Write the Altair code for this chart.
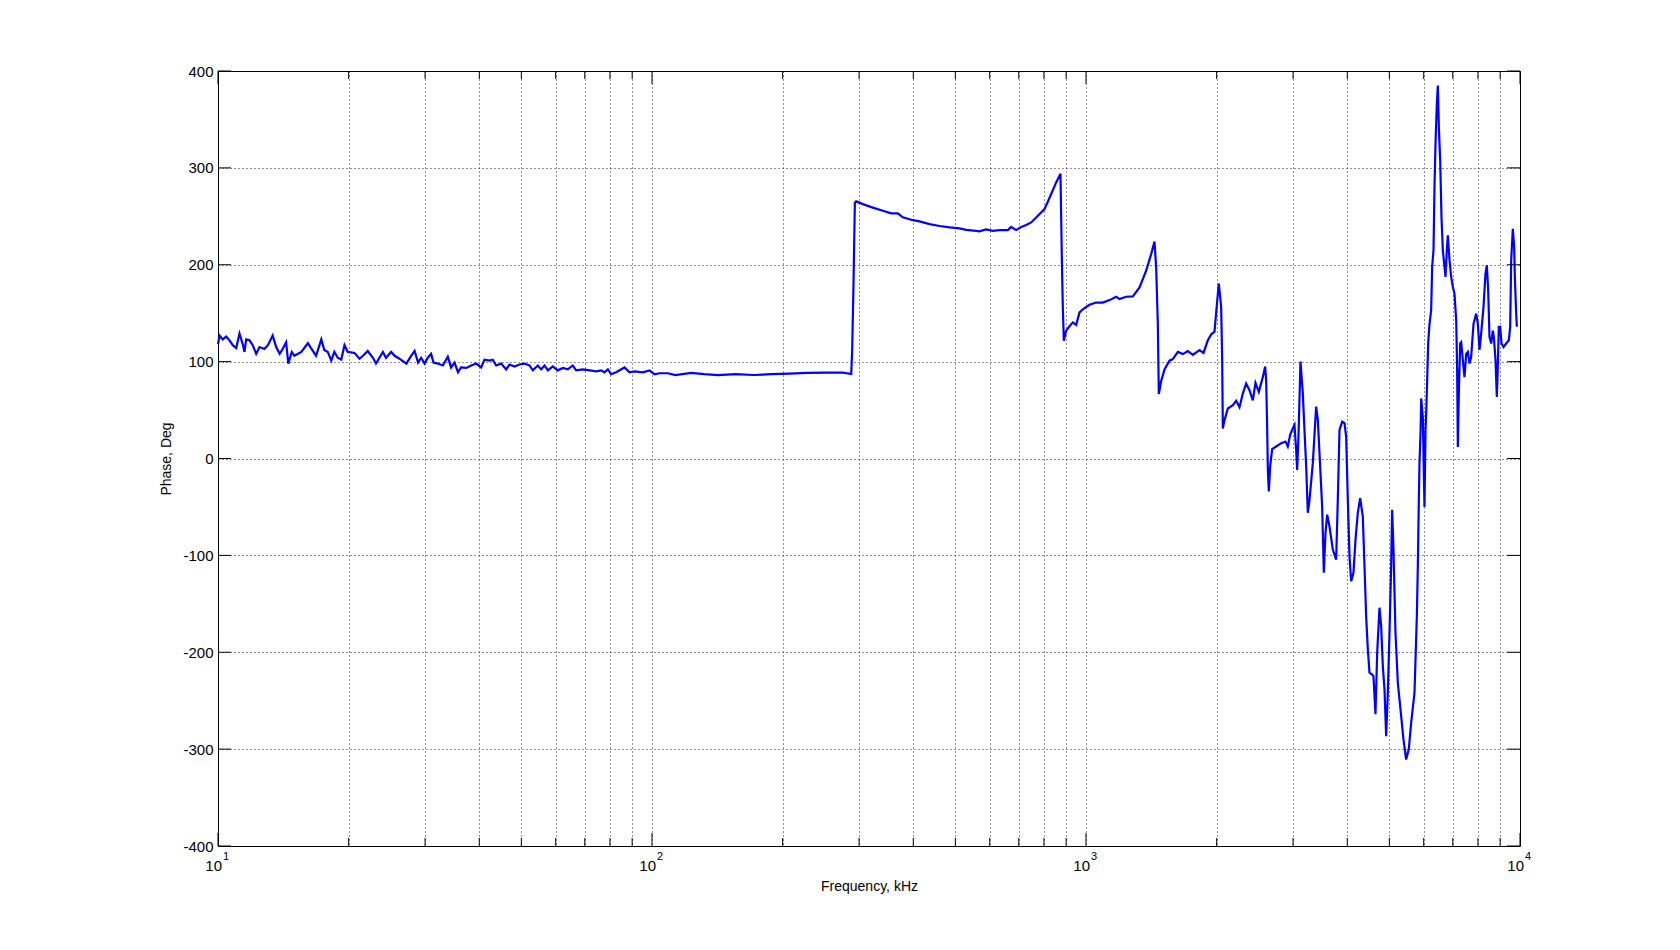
import altair as alt
import pandas as pd

# ---------------- data ----------------
# frequency given as log10(kHz), phase in degrees
low_logf = [1.0, 1.0035, 1.011, 1.019, 1.0265, 1.034, 1.042, 1.0495, 1.057, 1.061,
            1.065, 1.0726, 1.080, 1.088, 1.0956, 1.107, 1.115, 1.126, 1.134, 1.142,
            1.149, 1.157, 1.162, 1.170, 1.176, 1.192, 1.207, 1.2185, 1.226, 1.238,
            1.245, 1.253, 1.261, 1.268, 1.276, 1.284, 1.2915, 1.299, 1.3145, 1.326,
            1.334, 1.345, 1.357, 1.364, 1.372, 1.380, 1.387, 1.399, 1.407, 1.418,
            1.434, 1.445, 1.453, 1.461, 1.468, 1.476, 1.4835]
low_phase = [118, 127, 123, 126, 122, 117, 114, 129, 118, 110,
             123, 122, 117, 108, 115, 113, 117, 127, 115, 108,
             113, 120, 98, 110, 106, 110, 119, 111, 106, 123,
             112, 110, 101, 110, 104, 102, 117, 110, 109, 103,
             106, 111, 104, 98, 104, 110, 104, 110, 106, 103,
             98, 106, 111, 99, 104, 98, 104]

mid_logf = [1.491, 1.4965, 1.5065, 1.518, 1.5295, 1.537, 1.545, 1.553, 1.560, 1.572,
            1.5833, 1.595, 1.6063, 1.614, 1.6255, 1.633, 1.641, 1.6525, 1.664, 1.6716,
            1.6832, 1.6947, 1.7062, 1.7177, 1.7254, 1.737, 1.7446, 1.7523, 1.760, 1.7715,
            1.783, 1.7945, 1.806, 1.8175, 1.8252, 1.8406, 1.856, 1.8713, 1.8828, 1.8905,
            1.8982, 1.9059, 1.9174, 1.9366, 1.9481, 1.9596, 1.9788, 1.9942, 2.0057, 2.0173,
            2.0365, 2.054, 2.09, 2.12, 2.152, 2.193, 2.234, 2.275, 2.316, 2.358,
            2.399, 2.44]
mid_phase = [108, 99, 98, 96, 105, 94, 99, 89, 94, 93.5,
             96, 98, 94, 102, 101, 102, 96, 98, 92, 97,
             95, 97, 98, 96, 91, 96, 92, 96, 91, 95,
             91, 93.5, 92, 96, 91, 92, 91, 90, 91, 89,
             92, 87, 89, 94, 89, 90, 89, 91, 87, 88,
             88, 86, 88.3, 87, 86, 87, 86.2, 87, 87.6, 88.3,
             88.6, 88.6]

res_logf = [2.459, 2.4612, 2.4643, 2.4674, 2.4704, 2.4858, 2.5088, 2.5319, 2.5511, 2.5664,
            2.578, 2.601, 2.6164, 2.6394, 2.6625, 2.6855, 2.7086, 2.7239, 2.747, 2.7546,
            2.77, 2.7853, 2.8007, 2.8199, 2.8276, 2.8391, 2.8506, 2.8621, 2.8737, 2.889,
            2.9044, 2.9198, 2.9313, 2.9412, 2.9443, 2.9466, 2.9489, 2.9543, 2.963, 2.9697,
            2.9774, 2.985, 2.9927, 3.008, 3.0234, 3.0388, 3.0542, 3.0695, 3.0772, 3.0926,
            3.1079, 3.1233, 3.1386, 3.1501, 3.1578, 3.1617, 3.1655, 3.1678, 3.1732, 3.1809,
            3.1924, 3.2001, 3.2116, 3.2231, 3.2346, 3.2462, 3.2615, 3.2707, 3.2807, 3.2884,
            3.2961, 3.3014, 3.306, 3.3091, 3.3114, 3.3137, 3.3153, 3.3191, 3.3268, 3.3383,
            3.346, 3.3537, 3.3613, 3.369, 3.3767, 3.3844, 3.3905, 3.3982, 3.4074, 3.4128,
            3.4151, 3.4174]
res_phase = [87.2, 111, 180, 264, 265.4, 262.6, 259, 255.7, 253, 253,
             249, 246, 244.7, 242, 240, 238.5, 237.5, 236, 235, 234.4,
             236.5, 235, 235.8, 235.8, 239, 235.8, 239, 241, 243.7, 250.6,
             257.4, 273, 285, 294, 207.6, 156, 121.6, 132, 137, 140.5,
             138, 150.8, 154, 158.7, 161, 161, 163.5, 167, 164.6, 167,
             167.3, 176.6, 193.8, 211, 224, 197, 138.8, 66.5, 80, 92,
             101, 102.6, 110, 107.8, 111, 107, 112, 109, 122, 128,
             131, 158, 180.6, 167, 156.5, 105, 31, 39.6, 51.6, 55,
             59.5, 53, 67, 77.4, 70.5, 60, 78, 68.8, 84, 95,
             81, 32.7]

hi_logf = [3.419, 3.4213, 3.4243, 3.429, 3.4382, 3.4497, 3.4597, 3.465, 3.4704, 3.4766,
           3.4804, 3.4842, 3.4865, 3.4896, 3.4942, 3.4996, 3.5034, 3.5073, 3.5111, 3.515,
           3.5226, 3.5303, 3.5342, 3.5395, 3.5441, 3.548, 3.5518, 3.5557, 3.561, 3.5687,
           3.5764, 3.5802, 3.5841, 3.5902, 3.5956, 3.5994, 3.6033, 3.6071, 3.611, 3.6163,
           3.621, 3.6263, 3.6317, 3.6378, 3.6417, 3.6455, 3.6494, 3.6532, 3.6594, 3.6624,
           3.667, 3.6709, 3.6762, 3.6801, 3.6839, 3.6878, 3.6916, 3.6954, 3.6993, 3.7031,
           3.7054, 3.7085, 3.7131, 3.7185, 3.7262, 3.7315, 3.7377, 3.7438, 3.7492, 3.7569,
           3.7623, 3.7646, 3.7669]
hi_phase = [-11.7, -34, -8, 9.6, 12.4, 15.8, 17.5, 12.4, 24.4, 31.3,
            34.7, 9, -11.7, 22.7, 100, 67, 29.6, -8, -56, -43,
            -4.8, 53.6, 40, -8, -49.5, -118, -77, -58, -70, -94,
            -104.5, -42.6, 29.6, 38, 36.4, 22.7, -42.6, -101, -126.8, -118,
            -83.8, -56, -41, -60, -111, -163, -197, -221, -223, -225,
            -264, -200.7, -154, -173, -214, -238.5, -286.6, -242, -180, -111,
            -53, -94, -180, -231.6, -266, -290, -310.7, -300, -273, -242,
            -163, -111, -42.6]

top_logf = [3.7684, 3.771, 3.7723, 3.7761, 3.7799, 3.7823, 3.7838, 3.7861, 3.7884, 3.7915,
            3.7953, 3.7976, 3.8007, 3.803, 3.8053, 3.8084, 3.8107, 3.813, 3.8161, 3.8191,
            3.8222, 3.826, 3.8284, 3.8314, 3.8337, 3.8376, 3.8414, 3.8453, 3.8491, 3.853,
            3.8552, 3.8568, 3.8591, 3.8622, 3.8645, 3.8683, 3.8721, 3.876, 3.8798, 3.8837,
            3.8875, 3.8929, 3.899, 3.9029, 3.9067, 3.9105, 3.9159, 3.9205, 3.9236, 3.9267,
            3.9297, 3.9336, 3.9374, 3.9397, 3.9436, 3.9466, 3.9482, 3.9512, 3.9543, 3.9574,
            3.962, 3.9681, 3.9743, 3.9774, 3.9797, 3.9835, 3.9866, 3.9881, 3.9912, 3.9927]
top_phase = [-5, 29, 62, 43, -50, 29, 46, 81, 118.7, 139,
             153, 198, 215, 280, 325, 366, 385, 342, 308, 249,
             215, 198, 187.5, 215, 230.5, 204.7, 187.5, 177, 170, 143,
             91, 12, 67, 118.7, 120, 101.5, 84, 108, 110, 98,
             105, 139, 149.6, 139, 112, 129, 156.5, 191, 199.5, 173.7,
             125.6, 118.7, 132, 125.6, 101.5, 63.6, 84, 136, 136, 118.7,
             115, 118.7, 122, 136, 204.7, 237, 218, 187.5, 149.6, 136]

# axis ticks
decades = [10, 100, 1000, 10000]
decade_exp = ["1", "2", "3", "4"]
minor_ticks = [m * d for d in [10, 100, 1000] for m in range(2, 10)]
phase_ticks = [-400, -300, -200, -100, 0, 100, 200, 300, 400]

# ---------------- build table ----------------
logf_all, phase_all = [], []
for lf, ph in [(low_logf, low_phase), (mid_logf, mid_phase), (res_logf, res_phase),
               (hi_logf, hi_phase), (top_logf, top_phase)]:
    assert len(lf) == len(ph), (len(lf), len(ph))
    logf_all += lf
    phase_all += ph

df = pd.DataFrame({
    "f": [10 ** v for v in logf_all],
    "phase": phase_all,
    "i": list(range(len(logf_all))),
})

W, H = 1302, 775
FONT = "Liberation Sans"
xscale = alt.Scale(type="log", domain=[10, 10000], nice=False)
yscale = alt.Scale(domain=[-400, 400], nice=False, zero=False)

GRID = dict(grid=True, gridDash=[1, 3], gridColor="#000000", gridOpacity=0.85, gridWidth=1)

line = alt.Chart(df).mark_line(color="#0000ff", strokeWidth=2.2).encode(
    x=alt.X("f:Q", scale=xscale, axis=alt.Axis(
        values=decades + minor_ticks, labels=False, ticks=False, domain=False,
        title="Frequency, kHz", titleFont=FONT, titleFontSize=14, titleFontWeight="normal",
        titleColor="#000000", titleX=W / 2, titleY=40, titleBaseline="middle", **GRID)),
    y=alt.Y("phase:Q", scale=yscale, axis=alt.Axis(
        values=phase_ticks, ticks=False, tickSize=0, domain=False, labelPadding=5,
        labelExpr="'' + datum.value",
        labelFont=FONT, labelFontSize=15, labelColor="#000000",
        title="Phase, Deg", titleFont=FONT, titleFontSize=14, titleFontWeight="normal",
        titleColor="#000000", titleX=-52, titleY=H / 2, titleAngle=270,
        titleBaseline="middle", titleAlign="center", **GRID)),
    order="i:Q",
)

major_df = pd.DataFrame({"f": decades, "base": ["10"] * 4, "exp": decade_exp})
minor_df = pd.DataFrame({"f": minor_ticks})
ytick_df = pd.DataFrame({"phase": phase_ticks})

xenc = alt.X("f:Q", scale=xscale)
yenc = alt.Y("phase:Q", scale=yscale)


def xticks(data, length):
    bot = alt.Chart(data).mark_rule(color="#000000", strokeWidth=1).encode(
        x=xenc, y=alt.value(H), y2=alt.value(H - length))
    top = alt.Chart(data).mark_rule(color="#000000", strokeWidth=1).encode(
        x=xenc, y=alt.value(0), y2=alt.value(length))
    return [bot, top]


yt_left = alt.Chart(ytick_df).mark_rule(color="#000000", strokeWidth=1).encode(
    y=yenc, x=alt.value(0), x2=alt.value(13))
yt_right = alt.Chart(ytick_df).mark_rule(color="#000000", strokeWidth=1).encode(
    y=yenc, x=alt.value(W), x2=alt.value(W - 13))

lab_base = alt.Chart(major_df).mark_text(
    align="right", baseline="alphabetic", dx=4, font=FONT, fontSize=15, color="#000000"
).encode(x=xenc, y=alt.value(H + 25), text="base:N")
lab_exp = alt.Chart(major_df).mark_text(
    align="left", baseline="alphabetic", dx=5, font=FONT, fontSize=11, color="#000000"
).encode(x=xenc, y=alt.value(H + 14), text="exp:N")

chart = alt.layer(
    line, *xticks(major_df, 13), *xticks(minor_df, 8), yt_left, yt_right, lab_base, lab_exp
).properties(
    width=W, height=H,
    autosize=alt.AutoSizeParams(type="none"),
    padding={"left": 210, "top": 63, "right": 140, "bottom": 80},
    background="white",
).configure_view(stroke="#000000", strokeWidth=1)

chart.save("out.html", embed_options={"renderer": "svg", "actions": False})
